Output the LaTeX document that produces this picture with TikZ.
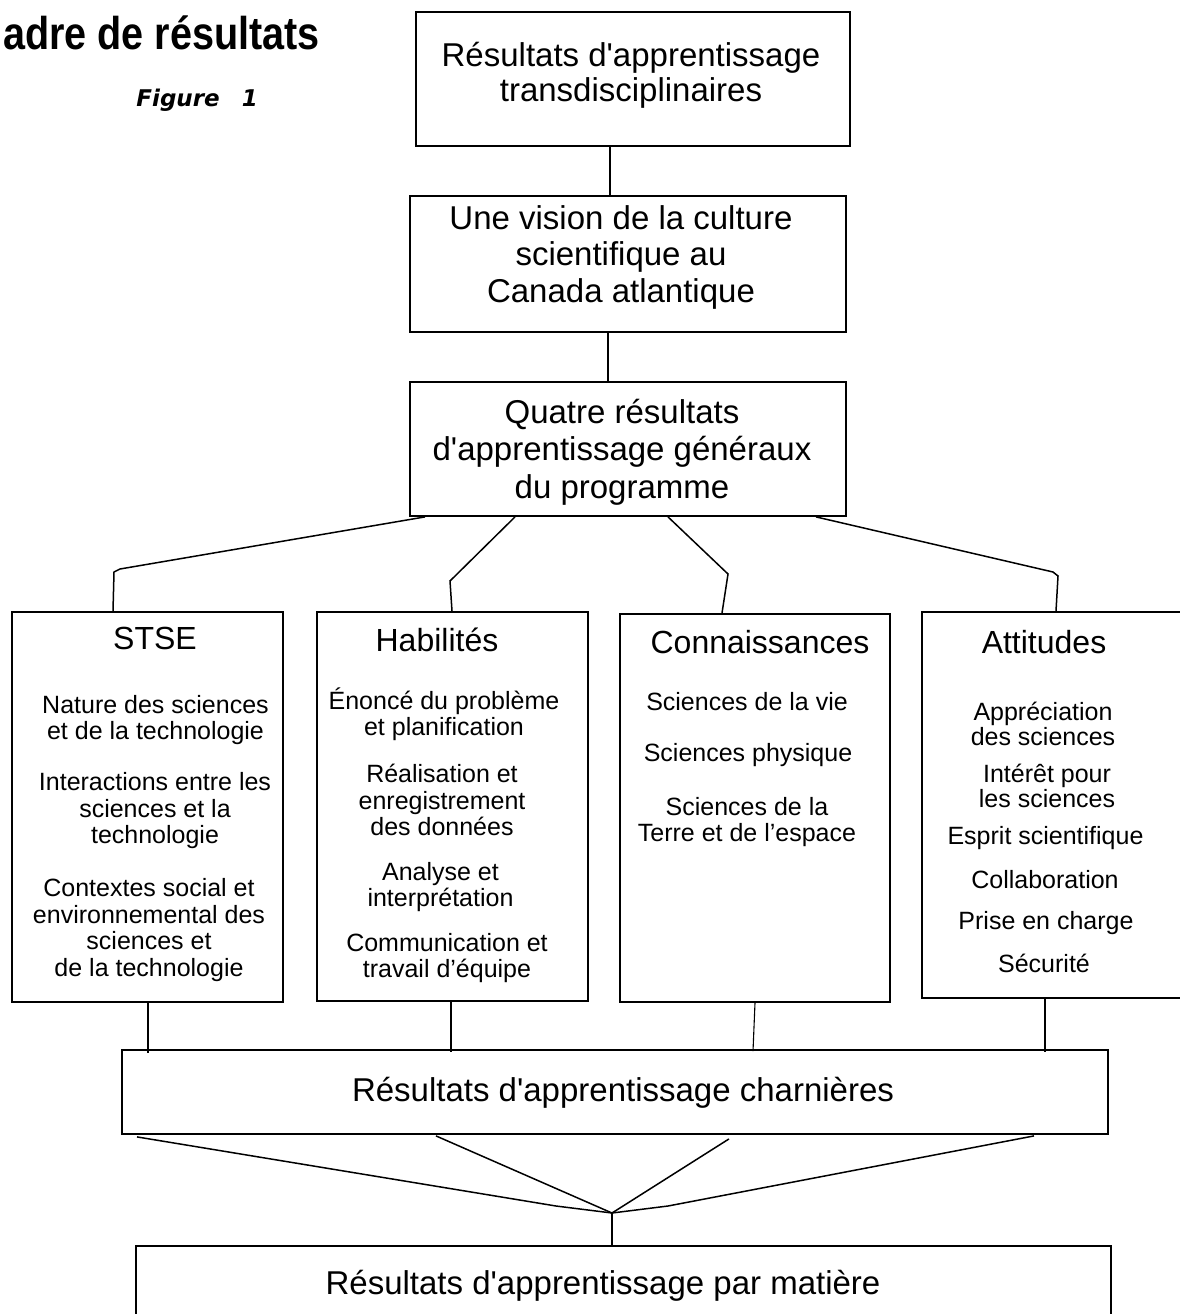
\documentclass[tikz,border=0pt]{standalone}
\usepackage{fontspec}
\setmainfont{Liberation Sans}
\newfontfamily\titlefont{Liberation Sans}[FakeStretch=0.86]
\newfontfamily\figfont{DejaVu Sans}
\usetikzlibrary{calc}
\tikzset{
  box/.style={draw, line width=1.8pt, rectangle, inner sep=0pt},
  txt/.style={align=center, inner sep=0pt, font=\fontsize{25}{26.5}\selectfont},
  big/.style={align=center, inner sep=0pt},
  ttl/.style={align=center, inner sep=0pt, font=\fontsize{32}{34}\selectfont},
  conn/.style={line width=1.5pt},
  thin/.style={line width=1.1pt},
  fan/.style={line width=1.5pt, line join=round}
}
\begin{document}
\begin{tikzpicture}[x=1pt,y=-1pt]
\useasboundingbox (0,0) rectangle (1179,1314);

% title
\node[anchor=base east, inner sep=0pt, font=\titlefont\bfseries\fontsize{46}{46}\selectfont] (title) at (320,50) {adre de résultats};
\node[anchor=base east, inner sep=0pt, font=\figfont\bfseries\itshape\fontsize{23}{23}\selectfont] (fig) at (258,106) {Figure\hspace{22pt}1};

% top boxes
\node[box, minimum width=434pt, minimum height=134pt] (A) at (633,79) {};
\node[big, font=\fontsize{33}{35}\selectfont] (At) at (631,75) {Résultats d\textquotesingle apprentissage\\transdisciplinaires};
\node[box, minimum width=436pt, minimum height=136pt] (B) at (628,264) {};
\node[big, font=\fontsize{33}{36.5}\selectfont] (Bt) at (621,257) {Une vision de la culture\\scientifique au\\Canada atlantique};
\node[box, minimum width=436pt, minimum height=134pt] (C) at (628,449) {};
\node[big, font=\fontsize{33}{37.5}\selectfont] (Ct) at (622,452) {Quatre résultats\\d\textquotesingle apprentissage généraux\\du programme};

% four boxes
\node[box, minimum width=271pt, minimum height=390pt] (S) at (147.5,807) {};
\node[box, minimum width=271pt, minimum height=389pt] (H) at (452.5,806.5) {};
\node[box, minimum width=270pt, minimum height=388pt] (K) at (755,808) {};
\node[box, minimum width=262pt, minimum height=386pt] (T) at (1053,805) {};

\node[ttl] (St) at (155,638) {STSE};
\node[txt] (s1) at (155.5,720) {Nature des sciences\\et de la technologie};
\node[txt] (s2) at (155,811) {Interactions entre les\\sciences et la\\technologie};
\node[txt] (s3) at (149,930) {Contextes social et\\environnemental des\\sciences et\\de la technologie};

\node[ttl] (Ht) at (437,640) {Habilités};
\node[txt] (h1) at (444,714) {Énoncé du problème\\et planification};
\node[txt] (h2) at (442,800) {Réalisation et\\enregistrement\\des données};
\node[txt] (h3) at (440.5,887) {Analyse et\\interprétation};
\node[txt] (h4) at (447,958) {Communication et\\travail d’équipe};

\node[ttl] (Kt) at (760,642) {Connaissances};
\node[txt] (k1) at (747,702) {Sciences de la vie};
\node[txt] (k2) at (748,755) {Sciences physique};
\node[txt] (k3) at (747,822) {Sciences de la\\Terre et de l’espace};

\node[ttl] (Tt) at (1044,642) {Attitudes};
\node[txt, font=\fontsize{25}{25}\selectfont] (t1) at (1043,724) {Appréciation\\des sciences};
\node[txt, font=\fontsize{25}{20}\selectfont] (t2) at (1047,786) {Intérêt pour\\les sciences};
\node[txt] (t3) at (1045.5,838) {Esprit scientifique};
\node[txt] (t4) at (1045,880) {Collaboration};
\node[txt] (t5) at (1046,923) {Prise en charge};
\node[txt] (t6) at (1044,963) {Sécurité};

% lower boxes
\node[box, minimum width=986pt, minimum height=84pt] (R) at (615,1092) {};
\node[big, font=\fontsize{33}{35}\selectfont] (Rt) at (623,1093) {Résultats d\textquotesingle apprentissage charnières};
\node[box, minimum width=975pt, minimum height=108pt] (P) at (623.5,1300) {};
\node[big, font=\fontsize{33}{35}\selectfont] (Pt) at (603,1286) {Résultats d\textquotesingle apprentissage par matière};

% connectors top
\draw[conn] ([xshift=-23pt]A.south) -- ([xshift=-18pt]B.north);
\draw[conn] ([xshift=-20pt]B.south) -- ([xshift=-20pt]C.north);
\draw[conn] ([xshift=-203pt]C.south) -- (120,569) -- (114,572) -- ([xshift=-34.5pt]S.north);
\draw[conn] ([xshift=-113pt]C.south) -- (450,581) -- ([xshift=-0.5pt]H.north);
\draw[conn] ([xshift=40pt]C.south) -- (728,574) -- ([xshift=-33pt]K.north);
\draw[conn] ([xshift=188pt]C.south) -- (1053,572) -- (1058,576) -- ([xshift=3pt]T.north);

% connectors to charnieres
\draw[thin] ([xshift=0.5pt]S.south) -- ([xshift=-467pt,yshift=-4pt]R.north);
\draw[thin] ([xshift=-1.5pt]H.south) -- ([xshift=-164pt,yshift=-3pt]R.north);
\draw[thin] ([xshift=0pt]K.south) -- ([xshift=138pt,yshift=-2pt]R.north);
\draw[thin] ([xshift=-8pt]T.south) -- ([xshift=430pt,yshift=-3pt]R.north);

% fan
\coordinate (m) at (612,1213);
\draw[fan] ([xshift=-478pt,yshift=-2pt]R.south) -- (556,1206) -- (m);
\draw[fan] ([xshift=-179pt,yshift=-1pt]R.south) -- (m);
\draw[fan] ([xshift=114pt,yshift=-4pt]R.south) -- (m);
\draw[fan] ([xshift=419pt,yshift=-1pt]R.south) -- (668,1206) -- (m);
\draw[thin] (m) -- ([xshift=-11.5pt]P.north);
\end{tikzpicture}
\end{document}
